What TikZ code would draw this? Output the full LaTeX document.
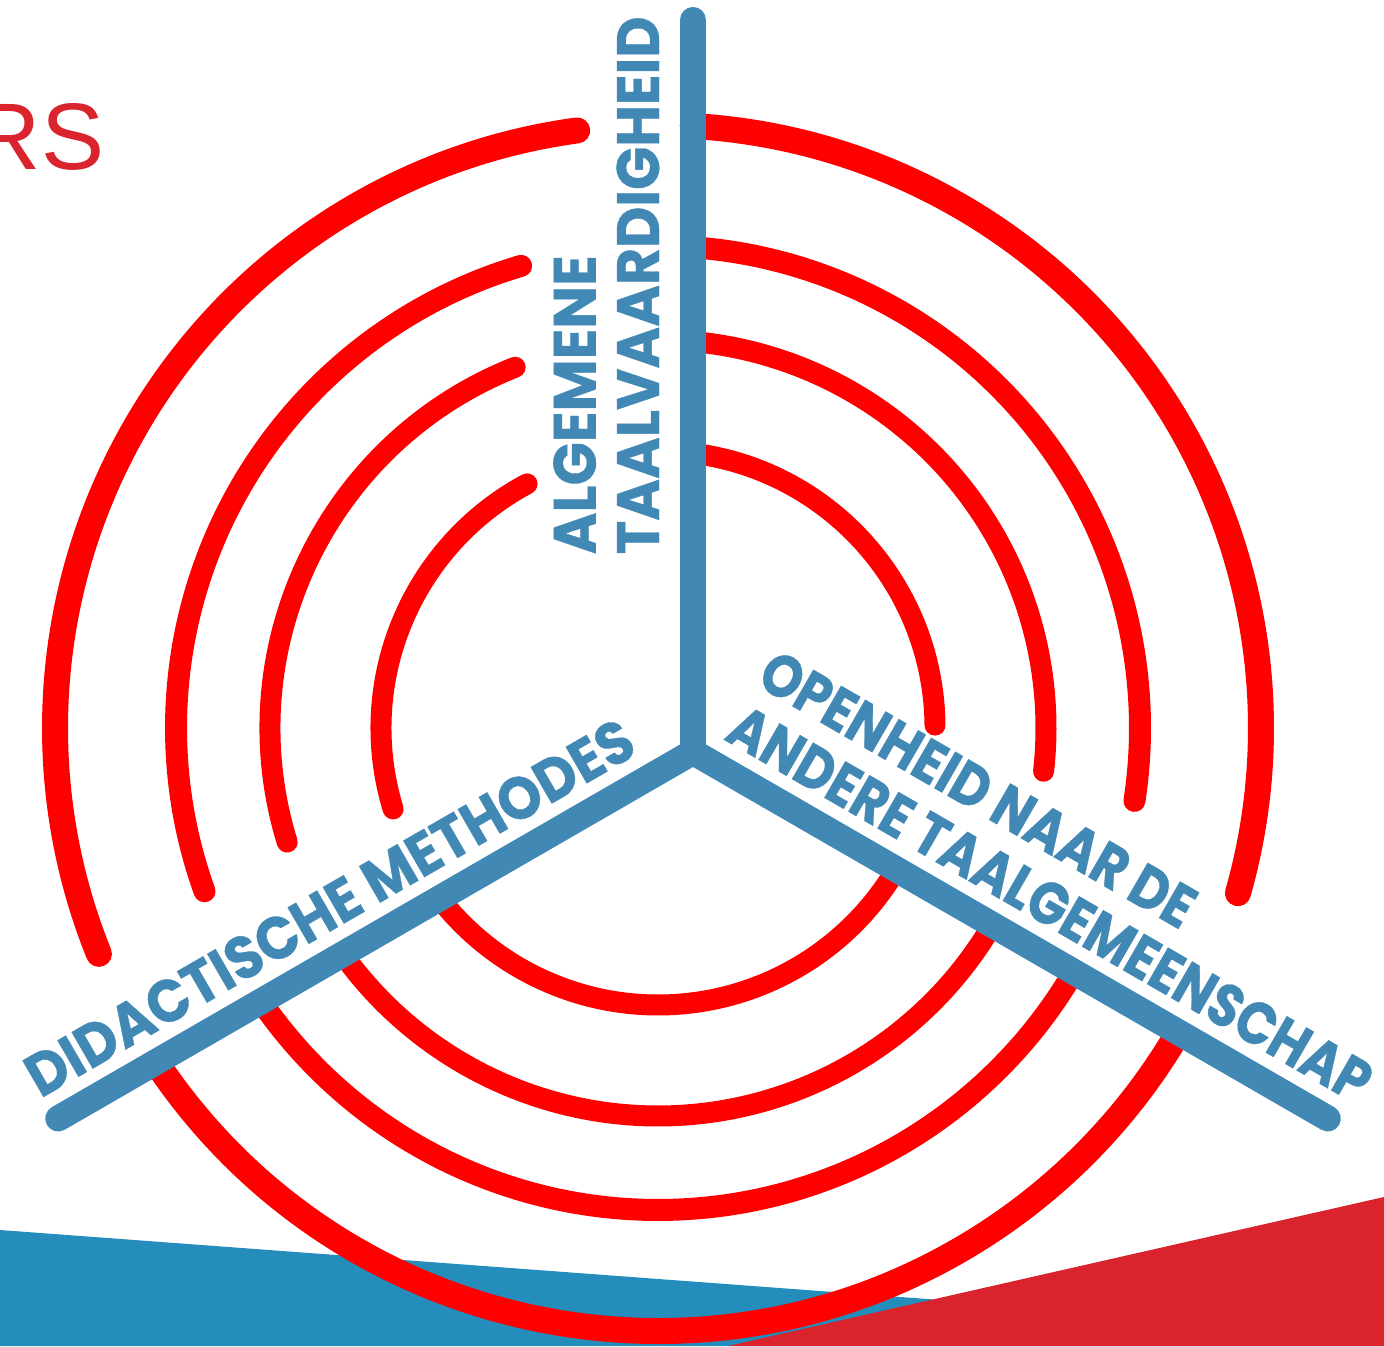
\documentclass[tikz,border=0pt]{standalone}
\usepackage{fontspec}
\usetikzlibrary{calc}
\newfontfamily\spokefont{Poppins}[BoldFeatures={FakeBold=0.6}]
\newfontfamily\titlefont{Liberation Sans}
\definecolor{spokeblue}{HTML}{4288B5}
\definecolor{ringred}{HTML}{FF0000}
\definecolor{bandblue}{HTML}{248DBB}
\definecolor{bandred}{HTML}{D9232D}
\begin{document}
\begin{tikzpicture}
  [
  ring/.style={draw=ringred, line width=0.21cm, line cap=round},
  spoke/.style={draw=spokeblue, line width=0.26cm, line cap=round},
  spokelabel/.style={text=spokeblue, inner sep=0pt, align=left,
    font=\spokefont\bfseries\fontsize{17}{18}\selectfont},
  ]
\useasboundingbox (0,0) rectangle (13.84,13.46);

% bands at the bottom
\fill[bandblue] (0,1.16) -- (13.84,0.13) -- (13.84,0) -- (0,0) -- cycle;
\fill[bandred] (7.28,0) -- (13.84,1.49) -- (13.84,0) -- cycle;

\node[text=bandred, anchor=base east, inner sep=0pt,
  font=\titlefont\fontsize{26.9}{30}\selectfont] (title) at (1.05,11.76) {RS};

\coordinate (ctr) at (6.58,6.18);
\coordinate (hub) at (6.93,5.94);
\coordinate (top) at ($(hub)+(90:7.32)$);
\coordinate (left) at ($(hub)+(210:7.33)$);
\coordinate (right) at ($(hub)+(330:7.33)$);

% rings, left part
\foreach \r/\a/\b/\w in {2.77/118.2/197/0.21, 3.88/111.6/197.1/0.21, 4.82/106.5/199.8/0.22, 6.03/97.7/202/0.26} {
  \draw[ring, line width=\w cm] ($(ctr)+(\a:\r)$) arc[start angle=\a, end angle=\b, radius=\r];
}
% rings, right part
\foreach \r/\a/\b/\w in {2.77/81.9/0.6/0.21, 3.88/84.2/-6.4/0.21, 4.82/85.4/-8.7/0.22, 6.03/86.7/-15.9/0.26} {
  \draw[ring, line width=\w cm] ($(ctr)+(\a:\r)$) arc[start angle=\a, end angle=\b, radius=\r];
}
% rings, bottom part
\foreach \r/\a/\b/\w in {2.77/217.9/329.3/0.21, 3.88/215.7/329.5/0.21, 4.82/214.6/329.6/0.22, 6.03/213.6/329.7/0.26} {
  \draw[ring, line cap=butt, line width=\w cm] ($(ctr)+(\a:\r)$) arc[start angle=\a, end angle=\b, radius=\r];
}

\draw[spoke] (hub) -- (top);
\draw[spoke] (hub) -- (left);
\draw[spoke] (hub) -- (right);

\node[spokelabel, rotate=90, xscale=0.95, anchor=south west] (taal) at ($(hub)+(90:1.97)+(180:0.33)$) {ALGEMENE\\TAALVAARDIGHEID};
\node[spokelabel, rotate=30, xscale=0.93, anchor=base west] (didac) at ($(hub)+(210:7.39)+(120:0.26)$) {DIDACTISCHE METHODES};
\node[spokelabel, rotate=-30, xscale=0.86, anchor=south west] (open) at ($(hub)+(330:0.19)+(60:0.25)$) {OPENHEID NAAR DE\\ANDERE TAALGEMEENSCHAP};
\end{tikzpicture}
\end{document}
